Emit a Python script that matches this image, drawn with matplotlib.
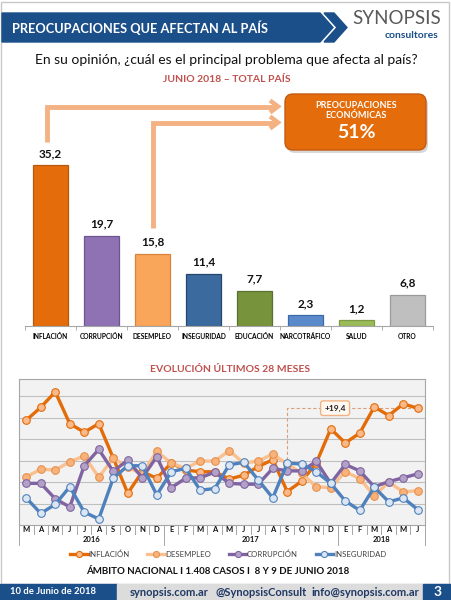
import matplotlib.pyplot as plt
import numpy as np
from matplotlib.patches import Polygon, Rectangle, FancyBboxPatch

plt.rcParams['font.family'] = ['Lato', 'DejaVu Sans']

# Principal problema - junio 2018
categorias = ['INFLACIÓN', 'CORRUPCIÓN', 'DESEMPLEO', 'INSEGURIDAD',
              'EDUCACIÓN', 'NARCOTRÁFICO', 'SALUD', 'OTRO']
valores = [35.2, 19.7, 15.8, 11.4, 7.7, 2.3, 1.2, 6.8]
colores_barras = ['#E46C0A', '#8F72B4', '#F9A65A', '#3B6A9E',
                  '#77933C', '#5B8ACB', '#9BBB59', '#BFBFBF']
bordes_barras = ['#B85A0C', '#6E5592', '#D9843A', '#23476F',
                 '#5A7130', '#3C6AA8', '#7C9A42', '#9A9A9A']

# Evolucion ultimos 28 meses (mar 2016 - jun 2018)
meses = ['M', 'A', 'M', 'J', 'J', 'A', 'S', 'O', 'N', 'D',
         'E', 'F', 'M', 'A', 'M', 'J', 'J', 'A', 'S', 'O', 'N', 'D',
         'E', 'F', 'M', 'A', 'M', 'J']
anios = ['2016', '2017', '2018']
anio_inicio = [0, 10, 22]
anio_fin = [9, 21, 27]

inflacion = [32.4, 35.4, 39.0, 31.6, 29.6, 31.6, 23.6, 15.4, 20.4, 18.9,
             22.4, 20.8, 20.4, 20.4, 18.7, 19.6, 21.6, 23.2, 15.8, 18.2,
             22.4, 30.4, 27.1, 29.4, 35.5, 33.5, 36.2, 35.2]
desempleo = [19.2, 21.0, 20.8, 22.7, 24.1, 19.1, 23.6, 21.5, 19.8, 25.2,
             22.4, 21.2, 22.9, 22.9, 25.3, 22.4, 22.9, 24.5, 22.2, 20.0,
             16.9, 16.7, 20.4, 18.8, 14.8, 18.0, 15.7, 16.0]
corrupcion = [17.7, 17.7, 14.1, 12.2, 21.8, 25.6, 20.5, 23.1, 19.0, 23.9,
              16.7, 18.9, 19.0, 20.3, 17.7, 17.5, 17.5, 21.2, 20.6, 20.6,
              22.8, 17.7, 22.1, 20.6, 16.9, 18.1, 19.0, 19.9]
inseguridad = [14.3, 10.7, 12.8, 16.9, 11.0, 9.4, 18.9, 21.8, 21.8, 15.0,
               20.4, 21.2, 16.1, 16.5, 22.0, 22.6, 18.5, 14.3, 22.4, 22.2,
               20.4, 17.7, 13.6, 11.4, 16.8, 13.4, 14.3, 11.6]

W, H = 452, 600
AZUL = '#1B4F8A'
ROJO = '#C0504D'

fig = plt.figure(figsize=(W / 100, H / 100), dpi=100)


def rect(x, y, w, h):
    return [x / W, 1 - (y + h) / H, w / W, h / H]


# background layer in pixel coordinates
bg = fig.add_axes([0, 0, 1, 1])
bg.set_xlim(0, W)
bg.set_ylim(H, 0)
bg.axis('off')

bg.add_patch(Rectangle((1.5, 1.5), W - 4, 582, fill=False, ec='#C8C8C8', lw=1))

# header banner
bg.add_patch(Polygon([(2, 13), (320, 13), (333, 27.5), (320, 42), (2, 42)], color=AZUL))
bg.add_patch(Polygon([(324, 13), (334, 13), (347, 27.5), (334, 42), (324, 42), (337, 27.5)],
                     color=AZUL))
bg.text(12, 28, 'PREOCUPACIONES QUE AFECTAN AL PAÍS', color='white',
        fontsize=9.2, fontweight='bold', va='center')
bg.text(397, 19, 'SYNOPSIS', color='#595959', fontsize=13.5, ha='center', va='center')
bg.text(438, 35, 'consultores', color=AZUL, fontsize=7.5, fontweight='bold',
        ha='right', va='center')

bg.text(226, 60, 'En su opinión, ¿cuál es el principal problema que afecta al país?',
        fontsize=10, ha='center', va='center', color='#111111')
bg.text(226.5, 80, 'JUNIO 2018 – TOTAL PAÍS', fontsize=7.5, fontweight='bold',
        ha='center', va='center', color=ROJO)

# arrows to the economic box
flecha = '#F4B183'
bg.plot([47.5, 47.5, 274], [141.5, 106.5, 106.5], color=flecha, lw=3.5,
        solid_joinstyle='miter', solid_capstyle='butt')
bg.plot([153.5, 153.5, 274], [228, 122.5, 122.5], color=flecha, lw=3.5,
        solid_joinstyle='miter', solid_capstyle='butt')
for yy in (106.5, 122.5):
    bg.plot([270, 278, 270], [yy - 6, yy, yy + 6], color=flecha, lw=3.2,
            solid_joinstyle='miter', solid_capstyle='butt')

bg.add_patch(FancyBboxPatch((287, 97), 141, 56, boxstyle='round,pad=0,rounding_size=8',
                            fc='#B0B0B0', ec='none', alpha=0.5))
bg.add_patch(FancyBboxPatch((285, 94), 141, 56, boxstyle='round,pad=0,rounding_size=8',
                            fc='#E46C0A', ec='#C55A11', lw=1))
bg.text(356, 105, 'PREOCUPACIONES', color='white', fontsize=6.5, fontweight='bold',
        ha='center', va='center')
bg.text(356, 116, 'ECONÓMICAS', color='white', fontsize=6.5, fontweight='bold',
        ha='center', va='center')
bg.text(356, 133, '51%', color='white', fontsize=14, fontweight='bold',
        ha='center', va='center')

bg.text(230, 370, 'EVOLUCIÓN ÚLTIMOS 28 MESES', fontsize=7.5, fontweight='bold',
        ha='center', va='center', color=ROJO)
bg.text(218, 572, 'ÁMBITO NACIONAL I 1.408 CASOS I  8 Y 9 DE JUNIO 2018', fontsize=7,
        fontweight='bold', ha='center', va='center', color='#111111')

# footer
bg.add_patch(Rectangle((0, 584), 117, 16, color=AZUL))
bg.add_patch(Rectangle((117, 584), 306, 16, color='#DCDCDC'))
bg.add_patch(Rectangle((423, 584), 29, 16, color=AZUL))
bg.text(10, 592, '10 de Junio de 2018', color='white', fontsize=6.8, fontweight='bold',
        va='center')
bg.text(130, 592, 'synopsis.com.ar', color='#1F3864', fontsize=8, fontweight='bold',
        va='center')
bg.text(216, 592, '@SynopsisConsult', color='#1F3864', fontsize=8, fontweight='bold',
        va='center')
bg.text(311, 592, 'info@synopsis.com.ar', color='#1F3864', fontsize=8, fontweight='bold',
        va='center')
bg.text(438, 592, '3', color='white', fontsize=10, fontweight='bold',
        ha='center', va='center')

# bar chart
ax = fig.add_axes(rect(25, 94, 408, 231.7))
ax.patch.set_visible(False)
x = np.arange(len(categorias))
ax.bar(x, valores, width=0.69, color=colores_barras, edgecolor=bordes_barras, linewidth=0.9)
for i, v in enumerate(valores):
    ax.text(i, v + 1.3, f'{v:.1f}'.replace('.', ','), ha='center', va='bottom',
            fontsize=8.5, fontweight='bold', color='#111111')
ax.set_xlim(-0.5, len(categorias) - 0.5)
ax.set_ylim(0, 50.75)
ax.set_yticks([])
ax.set_xticks(x)
ax.set_xticklabels(categorias, fontsize=4.8, fontweight='bold')
ax.tick_params(axis='x', length=0, pad=5)
ax.set_xticks(np.arange(-0.5, len(categorias)), minor=True)
ax.tick_params(axis='x', which='minor', length=3, color='#A6A6A6')
for s in ('top', 'left', 'right'):
    ax.spines[s].set_visible(False)
ax.spines['bottom'].set_color('#A6A6A6')

# line chart
al = fig.add_axes(rect(19, 379, 406, 146))
al.set_facecolor('#F2F2F2')
n = len(meses)
t = np.arange(n)
series = [
    ('INFLACIÓN', inflacion, '#E36C09', '#F9B98A', '#E36C09'),
    ('DESEMPLEO', desempleo, '#FAC08F', '#F9B27A', '#E5914F'),
    ('CORRUPCIÓN', corrupcion, '#8064A2', '#B3A2C7', '#8064A2'),
    ('INSEGURIDAD', inseguridad, '#4F81BD', '#DCE6F2', '#4F81BD'),
]
handles = []
for nombre, datos, col, cara, borde in series:
    h, = al.plot(t, datos, color=col, lw=2.4, marker='o', ms=5.5,
                 mfc=cara, mec=borde, mew=0.8, label=nombre)
    handles.append(h)

al.set_xlim(-0.5, n - 0.5)
al.set_ylim(8, 42)
al.set_yticks(np.arange(13, 40, 5))
al.set_yticklabels([])
al.tick_params(axis='y', length=0)
al.set_xticks([])
al.grid(axis='y', color='#BFBFBF', lw=0.8)
al.set_axisbelow(True)
for s in al.spines.values():
    s.set_color('#A6A6A6')
    s.set_linewidth(0.8)

# +19,4 annotation
sep = 18
dif = inflacion[-1] - inflacion[sep]
al.plot([sep, sep, n - 0.8], [inflacion[sep - 1], inflacion[-1], inflacion[-1]],
        color='#D9A07A', lw=0.8, ls=(0, (3, 2)), zorder=1)
al.text(21.3, inflacion[-1], f'+{dif:.1f}'.replace('.', ','), fontsize=6,
        fontweight='bold', ha='center', va='center', color='#222222', zorder=6,
        bbox=dict(boxstyle='round,pad=0.45,rounding_size=0.3', fc='#FFF8F0',
                  ec='#F4B183', lw=1))

tr = al.get_xaxis_transform()
for i, m in enumerate(meses):
    al.text(i, -0.03, m, transform=tr, ha='center', va='center', fontsize=5.5,
            fontweight='bold', color='#111111')
for b in np.arange(0.5, n - 1, 1):
    al.plot([b, b], [0, -0.065], transform=tr, clip_on=False, color='#A6A6A6', lw=0.7)
for b in [-0.5, 9.5, 21.5, n - 0.5]:
    al.plot([b, b], [0, -0.14], transform=tr, clip_on=False, color='#A6A6A6', lw=0.7)
for a, i0, i1 in zip(anios, anio_inicio, anio_fin):
    al.text((i0 + i1) / 2, -0.1, a, transform=tr, ha='center', va='center',
            fontsize=5.5, fontweight='bold', color='#111111')

fig.legend(handles=handles, loc='center', bbox_to_anchor=(0.505, 1 - 554 / H), ncol=4,
           frameon=False, fontsize=5.6, handlelength=2.2, handletextpad=0.1,
           columnspacing=2.3, labelcolor='#404040', markerscale=0.8)

fig.savefig('out.png', dpi=100)
